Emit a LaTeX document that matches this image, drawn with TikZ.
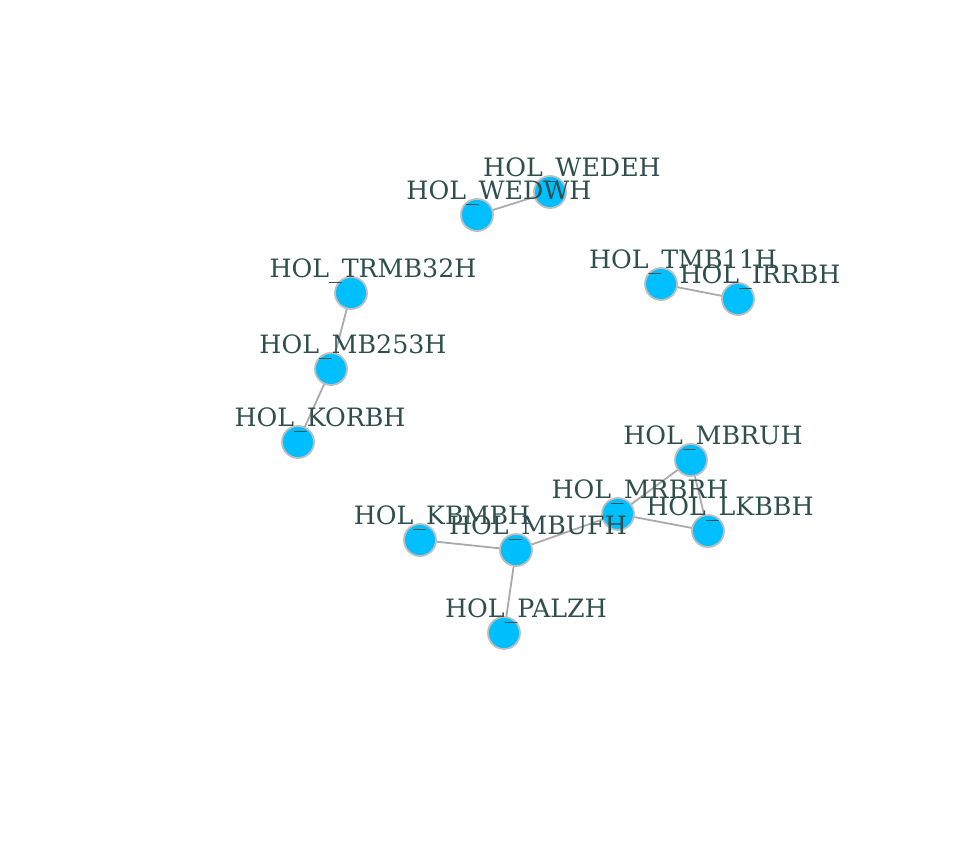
\documentclass[tikz,border=0pt]{standalone}
\usepackage{fontspec}
\setmainfont{DejaVu Serif}
\definecolor{nodefill}{RGB}{0,191,255}
\definecolor{nodeline}{RGB}{190,190,190}
\definecolor{edgecol}{RGB}{170,170,170}
\definecolor{labcol}{RGB}{47,79,79}
\begin{document}
\begin{tikzpicture}[x=1pt,y=-1pt,
  vert/.style={circle,draw=nodeline,line width=1.8pt,fill=nodefill,minimum size=32pt,inner sep=0pt},
  lab/.style={anchor=base,text=labcol,inner sep=0pt,font=\fontsize{25.3}{29}\selectfont},
  edge/.style={draw=edgecol,line width=1.8pt}]
\useasboundingbox (0,0) rectangle (960,865);
\fill[white] (0,0) rectangle (960,865);
\coordinate (pWEDEH) at (550,192);
\coordinate (pWEDWH) at (477,215);
\coordinate (pTMB11H) at (661,284);
\coordinate (pIRRBH) at (738,299);
\coordinate (pTRMB32H) at (351,293);
\coordinate (pMB253H) at (331,369);
\coordinate (pKORBH) at (298,442);
\coordinate (pMBRUH) at (691,460);
\coordinate (pMRBRH) at (618,514);
\coordinate (pLKBBH) at (708,531);
\coordinate (pKBMBH) at (420,540);
\coordinate (pMBUFH) at (516,550);
\coordinate (pPALZH) at (504,633);
\draw[edge] (pWEDEH) -- (pWEDWH);
\draw[edge] (pTMB11H) -- (pIRRBH);
\draw[edge] (pTRMB32H) -- (pMB253H);
\draw[edge] (pMB253H) -- (pKORBH);
\draw[edge] (pMBRUH) -- (pMRBRH);
\draw[edge] (pMBRUH) -- (pLKBBH);
\draw[edge] (pMRBRH) -- (pLKBBH);
\draw[edge] (pMRBRH) -- (pMBUFH);
\draw[edge] (pKBMBH) -- (pMBUFH);
\draw[edge] (pMBUFH) -- (pPALZH);
\foreach \n in {WEDEH,WEDWH,TMB11H,IRRBH,TRMB32H,MB253H,KORBH,MBRUH,MRBRH,LKBBH,KBMBH,MBUFH,PALZH}{
  \node[vert] (\n) at (p\n) {};
}
\foreach \n in {WEDEH,WEDWH,TMB11H,IRRBH,TRMB32H,MB253H,KORBH,MBRUH,MRBRH,LKBBH,KBMBH,MBUFH,PALZH}{
  \node[lab] (t\n) at ([shift={(22,-16)}]\n.center) {HOL\_\n};
}
\end{tikzpicture}
\end{document}
